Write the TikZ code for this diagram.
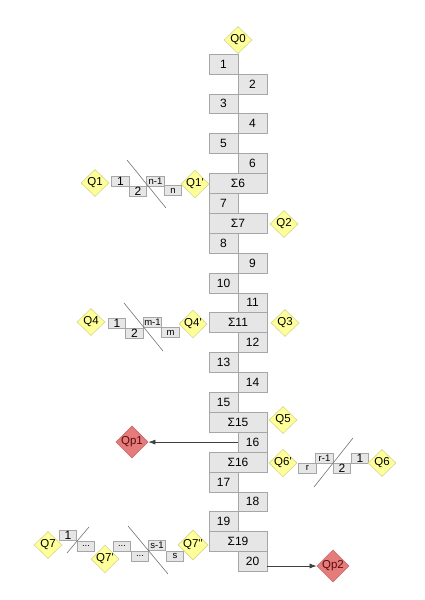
\documentclass[tikz,border=0pt]{standalone}
\usepackage{fontspec}
\setmainfont{Liberation Sans}
\usetikzlibrary{shapes.geometric,arrows.meta}
\definecolor{boxfill}{HTML}{E6E6E6}
\definecolor{boxline}{HTML}{A6A6A6}
\definecolor{qfill}{HTML}{FFFF99}
\definecolor{qline}{HTML}{D6D68F}
\definecolor{qpfill}{HTML}{E57B7B}
\definecolor{qpline}{HTML}{C86A6A}
\definecolor{qptext}{HTML}{5A0C0C}
\tikzset{
  cell/.style={draw=boxline, fill=boxfill, line width=0.6pt, minimum width=29pt, minimum height=19.9pt, inner sep=0pt, font=\fontsize{12}{12}\selectfont},
  sumcell/.style={cell, minimum width=58pt},
  sbox/.style={draw=boxline, fill=boxfill, line width=0.6pt, minimum width=17.5pt, minimum height=10pt, inner sep=0pt, font=\fontsize{12}{12}\selectfont},
  stxt/.style={font=\fontsize{9.5}{9.5}\selectfont},
  qd/.style={diamond, draw=qline, fill=qfill, line width=0.6pt, minimum width=28pt, minimum height=27pt, inner sep=0pt, font=\fontsize{11.5}{12}\selectfont},
  qp/.style={qd, draw=qpline, fill=qpfill, text=qptext},
  arr/.style={-{Latex[length=7pt,width=5pt]}, line width=0.7pt, draw=black!75},
  cut/.style={draw=black!55, line width=0.6pt}
}
\begin{document}
\begin{tikzpicture}[x=1pt,y=-1pt]
\useasboundingbox (0,0) rectangle (424,600);

% main column
\node[cell] (b1) at (223.5,64) {1};
\node[cell] (b2) at (252.5,83.9) {2};
\node[cell] (b3) at (223.5,103.8) {3};
\node[cell] (b4) at (252.5,123.7) {4};
\node[cell] (b5) at (223.5,143.6) {5};
\node[cell] (b6) at (252.5,163.5) {6};
\node[sumcell] (s6) at (238,183.4) {Σ6};
\node[cell] (b7) at (223.5,203.3) {7};
\node[sumcell] (s7) at (238,223.2) {Σ7};
\node[cell] (b8) at (223.5,243.1) {8};
\node[cell] (b9) at (252.5,263) {9};
\node[cell] (b10) at (223.5,282.9) {10};
\node[cell] (b11) at (252.5,302.8) {11};
\node[sumcell] (s11) at (238,322.7) {Σ11};
\node[cell] (b12) at (252.5,342.6) {12};
\node[cell] (b13) at (223.5,362.5) {13};
\node[cell] (b14) at (252.5,382.4) {14};
\node[cell] (b15) at (223.5,402.3) {15};
\node[sumcell] (s15) at (238,422.2) {Σ15};
\node[cell] (b16) at (252.5,442.1) {16};
\node[sumcell] (s16) at (238,462) {Σ16};
\node[cell] (b17) at (223.5,481.9) {17};
\node[cell] (b18) at (252.5,501.8) {18};
\node[cell] (b19) at (223.5,521.7) {19};
\node[sumcell] (s19) at (238,541.6) {Σ19};
\node[cell] (b20) at (252.5,561.5) {20};

\node[qd] (q0) at (238,40) {Q0};
\node[qd] (q2) at (284,224) {Q2};
\node[qd] (q3) at (285,323) {Q3};
\node[qd] (q5) at (283,420) {Q5};

% Q1 chain
\node[qd] (q1) at (95,183) {Q1};
\node[sbox] (n1) at (120.5,181) {1};
\node[sbox] (n2) at (138,191) {2};
\node[sbox,stxt] (nm) at (155.5,181) {n-1};
\node[sbox,stxt] (nn) at (173,190.5) {n};
\node[qd] (q1b) at (195,184) {Q1\textquotesingle};
\draw[cut] (127,160) -- (166,208);

% Q4 chain
\node[qd] (q4) at (91,322) {Q4};
\node[sbox] (m1) at (117,323) {1};
\node[sbox] (m2) at (134.5,333) {2};
\node[sbox,stxt] (mm) at (152.5,322) {m-1};
\node[sbox,stxt] (mn) at (170.5,332.5) {m};
\node[qd] (q4b) at (193,324) {Q4\textquotesingle};
\draw[cut] (124,303) -- (163,351);

% Q6 chain
\node[qd] (q6b) at (283,463) {Q6\textquotesingle};
\node[sbox,stxt] (rn) at (307.5,468) {r};
\node[sbox,stxt] (rm) at (324.5,458) {r-1};
\node[sbox] (r2) at (342,468.5) {2};
\node[sbox] (r1) at (360,458) {1};
\node[qd] (q6) at (382,463) {Q6};
\draw[cut] (353,438) -- (314,487);

% Q7 chain
\node[qd] (q7) at (48,545) {Q7};
\node[sbox] (t1) at (68,535.5) {1};
\node[sbox,stxt] (t2) at (86,546) {...};
\node[qd] (q7b) at (105,559) {Q7\textquotesingle};
\node[sbox,stxt] (t3) at (122,546) {...};
\node[sbox,stxt] (t4) at (140,556) {...};
\node[sbox,stxt] (tm) at (157,545) {s-1};
\node[sbox,stxt] (tn) at (175,556) {s};
\node[qd] (q7c) at (193,545) {Q7\textquotesingle\textquotesingle};
\draw[cut] (89,527) -- (67,553);
\draw[cut] (128,526) -- (168,574);

% exits
\node[qp] (qp1) at (132,442.1) {Qp1};
\node[qp] (qp2) at (333,566) {Qp2};
\draw[arr] (b16.west) -- (qp1.east);
\draw[arr] (qp2.west -| b20.east) -- (qp2.west);
\end{tikzpicture}
\end{document}
